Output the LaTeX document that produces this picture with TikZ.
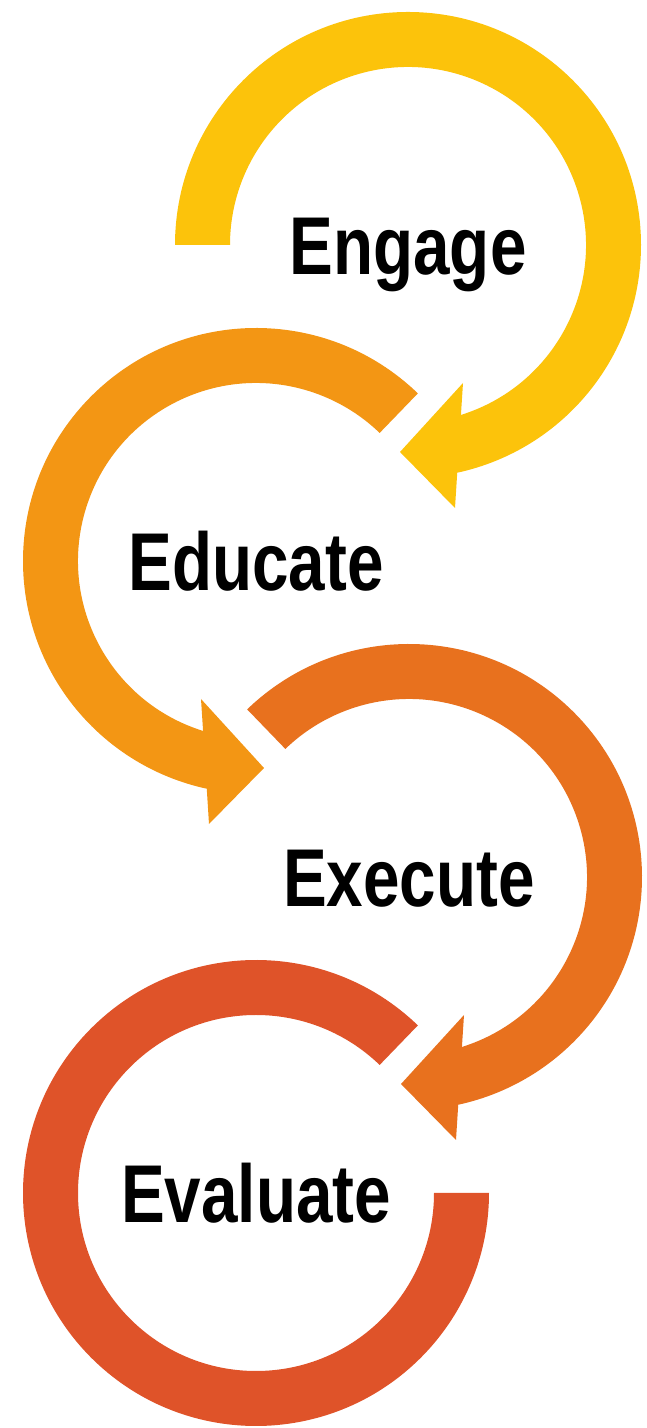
\documentclass[tikz,border=0pt]{standalone}
\usepackage{fontspec}
\newfontfamily\stagefont[FakeStretch=0.8]{Liberation Sans}
\definecolor{engagecol}{HTML}{FCC30B}
\definecolor{educatecol}{HTML}{F39614}
\definecolor{executecol}{HTML}{E8711E}
\definecolor{evaluatecol}{HTML}{DF5329}
\tikzset{stage/.style = {font=\stagefont\bfseries\fontsize{82}{82}\selectfont, text height=58.7pt, text depth=0pt, inner sep=0pt}}
% ring from the tail angle round to a flat arrow head near the bottom
\newcommand{\ringArrow}[2]{\fill[#1] (#2:\Rout) arc[start angle=#2, end angle=-77.8, radius=\Rout] -- (47,-263) -- (-8,-207) -- (55,-138) -- (-72.7:\Rin) arc[start angle=-72.7, end angle=#2, radius=\Rin] -- cycle;}

\begin{document}
\begin{tikzpicture}[x=1pt, y=1pt]
	\def\Rout{233}
	\def\Rin{178}
	\useasboundingbox (0,0) rectangle (646,1428);
	
	\node[stage] (engage)   at (408,1183) {Engage};
	\node[stage] (educate)  at (256,867)  {Educate};
	\node[stage] (execute)  at (409,551)  {Execute};
	\node[stage] (evaluate) at (256,235)  {Evaluate};
	
	\ringArrow{engagecol, shift={(engage.center)}}{180}
	\ringArrow{educatecol, shift={(educate.center)}, xscale=-1}{134}
	\ringArrow{executecol, shift={(execute.center)}}{134}
	\fill[evaluatecol, shift={(evaluate.center)}] (46:\Rout) arc[start angle=46, end angle=360, radius=\Rout] -- (0:\Rin) arc[start angle=360, end angle=46, radius=\Rin] -- cycle;
\end{tikzpicture}
\end{document}
